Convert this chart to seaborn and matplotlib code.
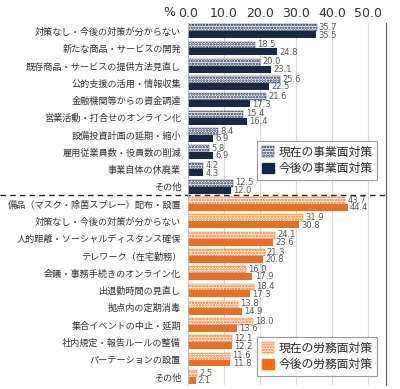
import pandas as pd
import matplotlib
matplotlib.use("Agg")
import matplotlib.pyplot as plt
import seaborn as sns
from matplotlib.patches import Patch

# --- data ---
biz_labels = ["対策なし・今後の対策が分からない", "新たな商品・サービスの開発",
              "既存商品・サービスの提供方法見直し", "公的支援の活用・情報収集",
              "金融機関等からの資金調達", "営業活動・打合せのオンライン化",
              "設備投資計画の延期・縮小", "雇用従業員数・役員数の削減",
              "事業自体の休廃業", "その他"]
biz_now = [35.7, 18.5, 20.0, 25.6, 21.6, 15.4, 8.4, 5.8, 4.2, 12.5]
biz_future = [35.5, 24.8, 23.1, 22.5, 17.3, 16.4, 6.9, 6.9, 4.3, 12.0]

labor_labels = ["備品（マスク・除菌スプレー）配布・設置", "対策なし・今後の対策が分からない",
                "人的距離・ソーシャルディスタンス確保", "テレワーク（在宅勤務）",
                "会議・事務手続きのオンライン化", "出退勤時間の見直し",
                "拠点内の定期消毒", "集合イベントの中止・延期",
                "社内規定・報告ルールの整備", "パーテーションの設置", "その他"]
labor_now = [43.7, 31.9, 24.1, 21.3, 16.0, 18.4, 13.8, 18.0, 12.1, 11.6, 2.5]
labor_future = [44.4, 30.8, 23.6, 20.8, 17.9, 17.3, 14.9, 13.6, 12.2, 11.8, 2.1]

biz_series = ["現在の事業面対策", "今後の事業面対策"]
labor_series = ["現在の労務面対策", "今後の労務面対策"]

NAVY = "#13264a"
ORANGE = "#ff6a0d"


def long_frame(now, future, series, offset):
    rows = []
    for i, (a, b) in enumerate(zip(now, future)):
        rows.append({"row": offset + i, "kind": series[0], "value": a})
        rows.append({"row": offset + i, "kind": series[1], "value": b})
    return pd.DataFrame(rows)


df_biz = long_frame(biz_now, biz_future, biz_series, 0)
df_labor = long_frame(labor_now, labor_future, labor_series, len(biz_labels))
all_labels = biz_labels + labor_labels
order = list(range(len(all_labels)))

sns.set_theme(style="white")
plt.rcParams["font.family"] = ["Noto Sans CJK JP", "DejaVu Sans"]
plt.rcParams["hatch.linewidth"] = 1.2

fig = plt.figure(figsize=(4.0, 3.89), dpi=100)
ax = fig.add_axes([0.47, 0.009, 0.495, 0.933])

sns.barplot(data=df_biz, y="row", x="value", hue="kind", order=order, orient="h",
            palette=["white", NAVY], width=0.8, ax=ax, legend=False)
sns.barplot(data=df_labor, y="row", x="value", hue="kind", order=order, orient="h",
            palette=["white", ORANGE], width=0.8, ax=ax, legend=False)

# "current" bars get a dotted hatch
for p in ax.patches:
    if p.get_height() <= 0:
        continue
    if matplotlib.colors.to_hex(p.get_facecolor()) == "#ffffff":
        row = int(round(p.get_y() + p.get_height()))
        col = NAVY if row < len(biz_labels) else ORANGE
        p.set_hatch("......")
        p.set_edgecolor(col)
        p.set_linewidth(0.3)
    else:
        p.set_linewidth(0)

# value labels
for i, (a, b) in enumerate(zip(biz_now + labor_now, biz_future + labor_future)):
    ax.text(a + 0.6, i - 0.22, f"{a:.1f}", fontsize=6, color="#595959", va="center",
            family="DejaVu Sans")
    ax.text(b + 0.6, i + 0.22, f"{b:.1f}", fontsize=6, color="#595959", va="center",
            family="DejaVu Sans")

ax.set_xlim(0, 55)
ax.set_ylim(len(all_labels) - 0.5, -0.5)
ax.set_xticks([0, 10, 20, 30, 40, 50])
ax.set_xticklabels([f"{v:.1f}" for v in [0, 10, 20, 30, 40, 50]], fontsize=9,
                   family="DejaVu Sans")
ax.xaxis.tick_top()
ax.tick_params(axis="x", length=0, pad=2, colors="#333333")
ax.set_yticks(order)
ax.set_yticklabels(all_labels, fontsize=6.6, color="#333333")
ax.tick_params(axis="y", length=0, pad=5)
ax.set_xlabel("")
ax.set_ylabel("")
ax.grid(axis="x", color="#d9d9d9", linewidth=0.8)
ax.set_axisbelow(True)
for s in ["top", "bottom"]:
    ax.spines[s].set_visible(False)
ax.spines["left"].set_color("#bfbfbf")
ax.spines["left"].set_linewidth(0.6)
ax.spines["right"].set_color("#595959")
ax.spines["right"].set_linewidth(0.8)

fig.text(0.423, 1 - 12 / 389, "%", fontsize=9, color="#333333", ha="center", va="center",
         family="DejaVu Sans")

# dashed separator between the two groups
sep = len(biz_labels) - 0.5
ax.plot([-0.95, 1.0], [sep, sep], transform=ax.get_yaxis_transform(), color="#222222",
        linestyle=(0, (4, 3)), linewidth=1.0, clip_on=False)

# legends
h1 = [Patch(facecolor="white", edgecolor=NAVY, hatch="......", linewidth=0.3),
      Patch(facecolor=NAVY, edgecolor=NAVY)]
leg1 = ax.legend(h1, biz_series, loc="upper right", bbox_to_anchor=(0.985, 0.69),
                 fontsize=8.5, frameon=True, fancybox=False, edgecolor="#808080",
                 handlelength=1.0, handleheight=1.0, handletextpad=0.4, borderpad=0.4,
                 labelspacing=0.3)
leg1.get_frame().set_linewidth(0.8)
ax.add_artist(leg1)
h2 = [Patch(facecolor="white", edgecolor=ORANGE, hatch="......", linewidth=0.3),
      Patch(facecolor=ORANGE, edgecolor=ORANGE)]
leg2 = ax.legend(h2, labor_series, loc="upper right", bbox_to_anchor=(0.985, 0.15),
                 fontsize=8.5, frameon=True, fancybox=False, edgecolor="#808080",
                 handlelength=1.0, handleheight=1.0, handletextpad=0.4, borderpad=0.4,
                 labelspacing=0.3)
leg2.get_frame().set_linewidth(0.8)

fig.savefig("out.png", dpi=100)
